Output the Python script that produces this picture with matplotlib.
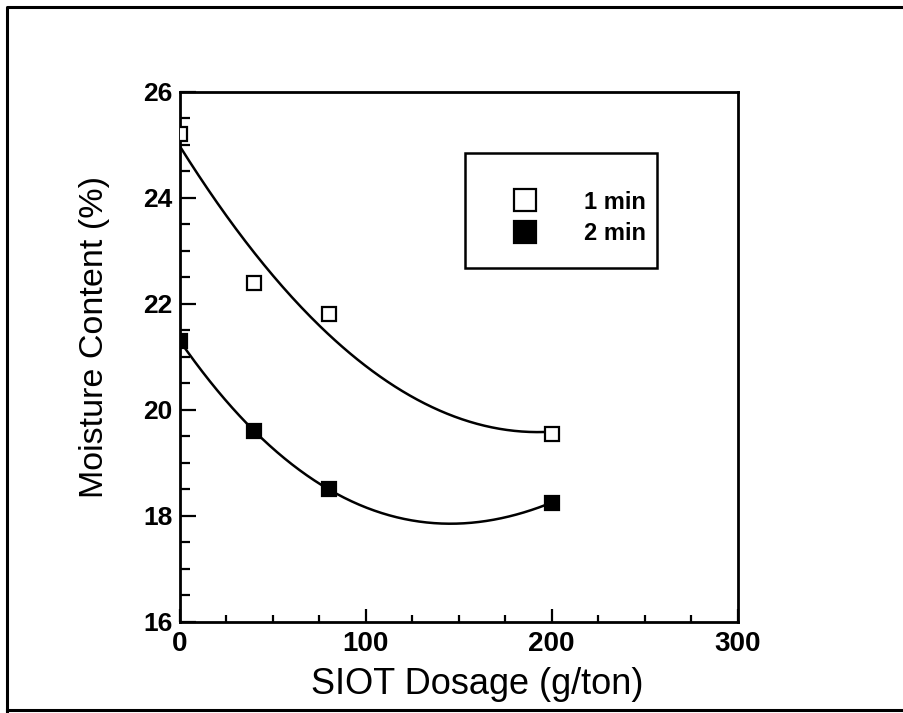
import numpy as np
import matplotlib.pyplot as plt
from matplotlib.lines import Line2D
from matplotlib.patches import Rectangle
from matplotlib.ticker import MultipleLocator

plt.rcParams['font.family'] = ['Liberation Sans', 'DejaVu Sans']

# SIOT dosage (g/ton) and moisture content (%)
dosage = [0, 40, 80, 200]
moist_1min = [25.2, 22.4, 21.8, 19.55]
moist_2min = [21.3, 19.6, 18.5, 18.25]
labels = ['1 min', '2 min']

fig = plt.figure(figsize=(9.04, 7.13), dpi=100)
ax = fig.add_axes([0.199, 0.128, 0.617, 0.743])

# fitted curves: 2nd order for 1 min, 3rd order for 2 min
xs = np.linspace(0, 200, 200)
fit1 = np.polyfit(dosage, moist_1min, 2)
fit2 = np.polyfit(dosage, moist_2min, 3)
ax.plot(xs, np.polyval(fit1, xs), color='black', lw=1.8)
ax.plot(xs, np.polyval(fit2, xs), color='black', lw=1.8)

ax.plot(dosage, moist_1min, 's', ms=10.5, mfc='white', mec='black', mew=1.6, zorder=3)
ax.plot(dosage, moist_2min, 's', ms=10.5, mfc='black', mec='black', mew=1.6, zorder=3)

ax.set_xlim(0, 300)
ax.set_ylim(16, 26)
ax.xaxis.set_major_locator(MultipleLocator(100))
ax.xaxis.set_minor_locator(MultipleLocator(25))
ax.yaxis.set_major_locator(MultipleLocator(2))
ax.yaxis.set_minor_locator(MultipleLocator(0.5))
ax.tick_params(which='both', direction='in', width=1.6, top=False, right=False)
ax.tick_params(axis='x', which='major', length=9.5, labelsize=20, pad=7)
ax.tick_params(axis='x', which='minor', length=5)
ax.tick_params(axis='y', which='major', length=11.5, labelsize=19, pad=5.5)
ax.tick_params(axis='y', which='minor', length=7)
for t in ax.get_xticklabels() + ax.get_yticklabels():
    t.set_fontweight('bold')
for s in ax.spines.values():
    s.set_linewidth(2)

ax.set_xlabel('SIOT Dosage (g/ton)', fontsize=26)
ax.set_ylabel('Moisture Content (%)', fontsize=24.5)
ax.xaxis.set_label_coords(0.534, -0.085)
ax.yaxis.set_label_coords(-0.125, 0.538)

# legend box drawn separately so the padding matches the scan
ax.add_patch(Rectangle((0.511, 0.668), 0.345, 0.217, transform=ax.transAxes,
                       fill=False, edgecolor='black', lw=1.8, zorder=4))
handles = [Line2D([], [], ls='none', marker='s', ms=16, mfc='white', mec='black', mew=1.6),
           Line2D([], [], ls='none', marker='s', ms=16, mfc='black', mec='black', mew=1.6)]
leg = ax.legend(handles, labels, loc='upper left', bbox_to_anchor=(0.577, 0.814),
                frameon=False, fontsize=17, borderpad=0, handlelength=2.0,
                handletextpad=1.5, labelspacing=0.37, borderaxespad=0)
for t in leg.get_texts():
    t.set_fontweight('bold')

# outer frame of the scanned figure
fig.add_artist(Line2D([0.008, 0.008, 1.0], [0.0, 0.99, 0.99], transform=fig.transFigure,
                      color='black', lw=2.2))
fig.add_artist(Line2D([0.008, 1.0], [0.004, 0.004], transform=fig.transFigure,
                      color='black', lw=2.2))

fig.savefig('out.png', dpi=100)
